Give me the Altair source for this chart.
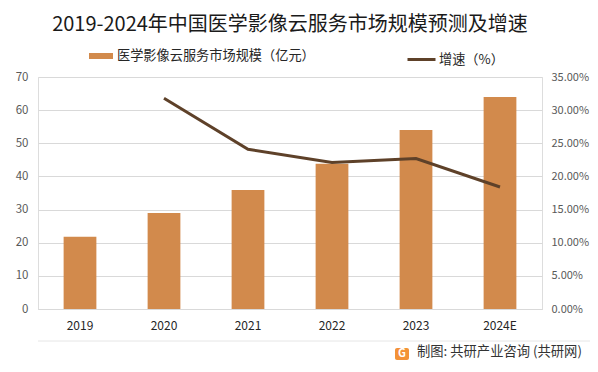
import altair as alt
import pandas as pd

years = ["2019", "2020", "2021", "2022", "2023", "2024E"]
market_size = [21.8, 29.0, 35.9, 43.8, 54.0, 64.0]
growth = [None, 0.318, 0.241, 0.221, 0.227, 0.184]
bar_label = "医学影像云服务市场规模（亿元）"
line_label = "增速（%）"
title_text = "2019-2024年中国医学影像云服务市场规模预测及增速"
footer_text = "制图: 共研产业咨询 (共研网)"

df = pd.DataFrame({
    "year": years,
    "size": market_size,
    "growth": growth,
    "s1": [bar_label] * len(years),
    "s2": [line_label] * len(years),
})

FONT = "Noto Sans CJK SC"
BAR_C = "#D28A4C"
LINE_C = "#5E4129"
GRID_C = "#D9D9D9"

x = alt.X("year:N", sort=years, title=None,
          scale=alt.Scale(paddingInner=0.61, paddingOuter=0.305),
          axis=alt.Axis(labelAngle=0, labelFontSize=12, labelColor="#262626",
                        labelFont=FONT, labelPadding=11, ticks=False,
                        domainColor=GRID_C, grid=False))

bars = alt.Chart(df).mark_bar(color=BAR_C).encode(
    x=x,
    y=alt.Y("size:Q", title=None,
            scale=alt.Scale(domain=[0, 70]),
            axis=alt.Axis(values=[0, 10, 20, 30, 40, 50, 60, 70], labelFontSize=11.5,
                          labelColor="#595959", labelFont=FONT, labelPadding=10,
                          ticks=False, domain=False, gridColor=GRID_C)),
    color=alt.Color("s1:N", scale=alt.Scale(range=[BAR_C]),
                    legend=alt.Legend(orient="none", legendX=51, legendY=-33, title=None,
                                      symbolType="M-1,-0.25H1V0.25H-1Z", symbolSize=576,
                                      symbolStrokeWidth=0, symbolOpacity=1,
                                      labelFontSize=13.2, labelFont=FONT, labelColor="#262626",
                                      labelOffset=4, padding=0, labelLimit=400)),
)

line = alt.Chart(df).transform_filter("datum.growth != null").mark_line(
    strokeWidth=3, color=LINE_C).encode(
    x=alt.X("year:N", sort=years),
    y=alt.Y("growth:Q", title=None,
            scale=alt.Scale(domain=[0, 0.35]),
            axis=alt.Axis(orient="right", values=[0, 0.05, 0.1, 0.15, 0.2, 0.25, 0.3, 0.35],
                          format=".2%", labelFontSize=11, labelColor="#595959",
                          labelFont=FONT, labelPadding=9, ticks=False, domain=False,
                          grid=False)),
    color=alt.Color("s2:N", scale=alt.Scale(range=[LINE_C]),
                    legend=alt.Legend(orient="none", legendX=368, legendY=-33, title=None,
                                      symbolType="stroke", symbolSize=784,
                                      symbolStrokeWidth=3,
                                      labelFontSize=13.2, labelFont=FONT, labelColor="#262626",
                                      labelOffset=2, padding=0, labelLimit=200)),
)

title = alt.Chart(pd.DataFrame({"t": [title_text]})).mark_text(
    font=FONT, fontSize=20, color="#1A1A1A", align="center", baseline="middle"
).encode(text="t:N", x=alt.value(252), y=alt.value(-52))

sep = alt.Chart(pd.DataFrame({"a": [0]})).mark_rule(color="#E6E6E6", strokeWidth=1).encode(
    x=alt.value(0), x2=alt.value(552), y=alt.value(264))

logo_box = alt.Chart(pd.DataFrame({"a": [0]})).mark_rect(
    color="#F39237", cornerRadius=2).encode(
    x=alt.value(357), x2=alt.value(371), y=alt.value(271), y2=alt.value(283))

logo = alt.Chart(pd.DataFrame({"t": ["G"]})).mark_text(
    font=FONT, fontSize=11, fontWeight="bold", color="white", align="center", baseline="middle"
).encode(text="t:N", x=alt.value(364), y=alt.value(277))

footer = alt.Chart(pd.DataFrame({"t": [footer_text]})).mark_text(
    font=FONT, fontSize=13.3, color="#333333", align="left", baseline="middle"
).encode(text="t:N", x=alt.value(379), y=alt.value(275))

chart = alt.layer(bars, line, title, sep, logo_box, logo, footer).resolve_scale(
    y="independent", color="independent"
).properties(
    width=504, height=232,
    autosize=alt.AutoSizeParams(type="none"),
    padding={"left": 30, "top": 69, "right": 48, "bottom": 55},
).configure_view(stroke=None).configure(background="white")

chart.save("out.html", embed_options={"renderer": "svg", "actions": False})
